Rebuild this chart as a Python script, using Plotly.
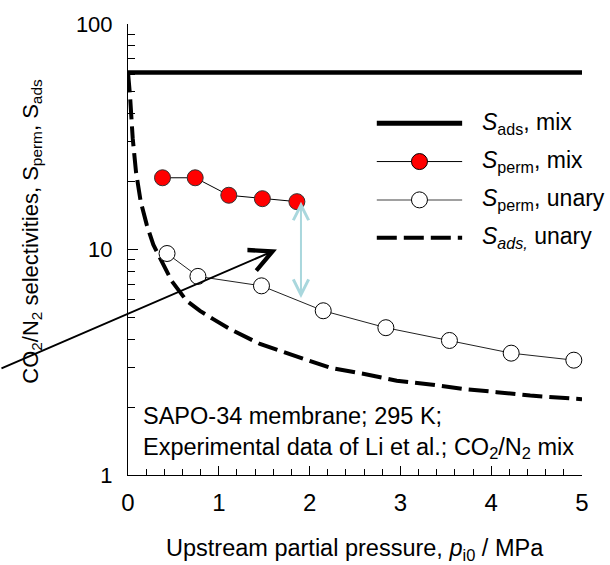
import plotly.graph_objects as go
import numpy as np

# Sperm, mix (filled red markers)
p_mix = [0.38, 0.74, 1.11, 1.48, 1.86]
s_perm_mix = [20.8, 20.8, 17.4, 16.8, 16.3]

# Sperm, unary (open markers)
p_unary = [0.43, 0.77, 1.47, 2.15, 2.84, 3.54, 4.22, 4.91]
s_perm_unary = [9.6, 7.6, 6.9, 5.35, 4.5, 3.95, 3.47, 3.23]

# Sads, mix (constant)
p_ads_mix = [0.0, 5.0]
s_ads_mix = [61.0, 61.0]

# Sads, unary (dashed curve)
p_ads_unary = [0.0, 0.022, 0.052, 0.088, 0.14, 0.206, 0.279, 0.371, 0.481,
               0.646, 0.793, 0.939, 1.123, 1.454, 1.894, 2.225, 2.59, 2.96,
               3.33, 3.69, 4.06, 4.43, 5.0]
s_ads_unary = [61.0, 48.3, 31.1, 22.1, 16.3, 12.9, 10.5, 8.88, 7.25, 5.92,
               5.34, 4.91, 4.44, 3.81, 3.32, 2.99, 2.81, 2.62, 2.52, 2.41,
               2.33, 2.25, 2.17]

x_ticks = [0, 1, 2, 3, 4, 5]
y_ticks = [1, 10, 100]

FONT = "Liberation Sans, Arial, sans-serif"
BLUE = "#a9d7dd"

fig = go.Figure()

fig.add_trace(go.Scatter(x=p_ads_unary, y=s_ads_unary, mode="lines",
                         line=dict(color="black", width=4, dash="20px,7px"),
                         cliponaxis=False))
fig.add_trace(go.Scatter(x=p_ads_mix, y=s_ads_mix, mode="lines",
                         line=dict(color="black", width=4.5), cliponaxis=False))
fig.add_trace(go.Scatter(x=p_unary, y=s_perm_unary, mode="lines+markers",
                         line=dict(color="#222222", width=1),
                         marker=dict(size=16, color="white",
                                     line=dict(color="black", width=1)),
                         cliponaxis=False))
fig.add_trace(go.Scatter(x=p_mix, y=s_perm_mix, mode="lines+markers",
                         line=dict(color="black", width=1),
                         marker=dict(size=16, color="#ff0000",
                                     line=dict(color="#333333", width=1)),
                         cliponaxis=False))

# arrows drawn in data coordinates
fig.add_annotation(x=1.64, y=np.log10(10.0), ax=-1.41, ay=np.log10(2.95),
                   xref="x", yref="y", axref="x", ayref="y", text="",
                   showarrow=True, arrowhead=5, arrowsize=2.2, arrowwidth=2,
                   arrowcolor="black", standoff=0)
fig.add_annotation(x=1.905, y=np.log10(s_perm_mix[-1]), ax=1.905, ay=np.log10(6.0),
                   xref="x", yref="y", axref="x", ayref="y", text="",
                   showarrow=True, arrowside="end+start", arrowhead=5,
                   startarrowhead=5, arrowsize=1.5, startarrowsize=1.5,
                   arrowwidth=2, arrowcolor=BLUE, standoff=0, startstandoff=0)

# legend (drawn in paper coordinates)
rows = [0.780, 0.695, 0.610, 0.526]
labels = ["<i>S</i><sub>ads</sub>, mix", "<i>S</i><sub>perm</sub>, mix",
          "<i>S</i><sub>perm</sub>, unary", "<i>S<sub>ads,</sub></i> unary"]
lx0, lx1, lxm, ltx = 0.548, 0.736, 0.642, 0.776
styles = [dict(color="black", width=5), dict(color="black", width=1),
          dict(color="#808080", width=1.5), dict(color="black", width=4, dash="20px,7px")]
for r, st in zip(rows, styles):
    fig.add_shape(type="line", xref="paper", yref="paper", x0=lx0, x1=lx1,
                  y0=r, y1=r, line=st)
for r, fill in [(rows[1], "#ff0000"), (rows[2], "white")]:
    fig.add_shape(type="circle", xref="paper", yref="paper",
                  xsizemode="pixel", ysizemode="pixel", xanchor=lxm, yanchor=r,
                  x0=-8, x1=8, y0=-8, y1=8, fillcolor=fill,
                  line=dict(color="black", width=1))
for r, lab in zip(rows, labels):
    fig.add_annotation(x=ltx, y=r, xref="paper", yref="paper", text=lab,
                       showarrow=False, xanchor="left", yanchor="middle",
                       font=dict(family=FONT, size=23, color="black"))

fig.add_annotation(x=0.028, y=0.095, xref="paper", yref="paper",
                   text="SAPO-34 membrane; 295 K;<br>Experimental data of Li et al.; CO<sub>2</sub>/N<sub>2</sub> mix",
                   showarrow=False, xanchor="left", yanchor="middle", align="left",
                   font=dict(family=FONT, size=23.5, color="black"))

fig.add_annotation(x=0.5, y=-0.165, xref="paper", yref="paper",
                   text="Upstream partial pressure, <i>p</i><sub>i0</sub> / MPa",
                   showarrow=False, xanchor="center", yanchor="middle",
                   font=dict(family=FONT, size=23.5, color="black"))
fig.add_annotation(x=-0.212, y=0.541, xref="paper", yref="paper", textangle=-90,
                   text="CO<sub>2</sub>/N<sub>2</sub> selectivities, S<sub>perm</sub>, S<sub>ads</sub>",
                   showarrow=False, xanchor="center", yanchor="middle",
                   font=dict(family=FONT, size=22, color="black"))

fig.update_layout(
    width=610, height=565, autosize=False,
    margin=dict(l=128, r=28, t=22, b=90),
    paper_bgcolor="white", plot_bgcolor="white",
    showlegend=False,
    font=dict(family=FONT, size=21, color="black"),
)
fig.update_xaxes(range=[0, 5], tickvals=x_ticks, ticks="inside", ticklen=9,
                 tickcolor="black", showline=True, linecolor="black", linewidth=1,
                 showgrid=False, zeroline=False, ticklabelstandoff=6,
                 minor=dict(dtick=0.2, ticks="inside", ticklen=6, tickcolor="black",
                            showgrid=False),
                 tickfont=dict(size=24))
fig.update_yaxes(type="log", range=[0, 2], tickvals=y_ticks, ticks="inside",
                 ticklen=10, tickcolor="black", showline=True, linecolor="black",
                 linewidth=1, showgrid=False, zeroline=False, ticklabelstandoff=10,
                 minor=dict(dtick="D1", ticks="inside", ticklen=7, tickcolor="black",
                            showgrid=False),
                 tickfont=dict(size=22))

fig.write_html("out.html")
